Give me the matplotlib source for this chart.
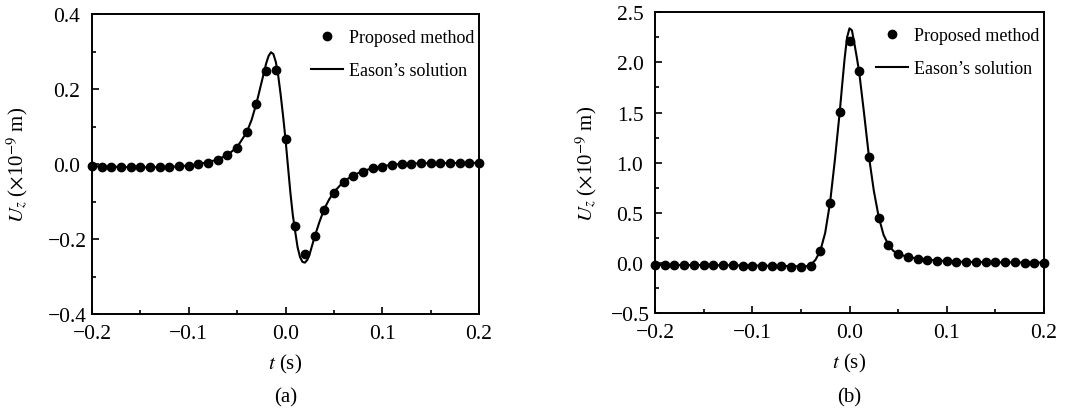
import numpy as np
import matplotlib
matplotlib.use("Agg")
import matplotlib.pyplot as plt
from matplotlib.ticker import MultipleLocator

plt.rcParams['font.family'] = ['Liberation Serif', 'DejaVu Serif']
plt.rcParams['mathtext.fontset'] = 'stix'

# ---- data ----
t_pts = np.round(np.arange(-0.20, 0.2001, 0.01), 2)

# (a) proposed method, 41 points
ua_pts = [-0.006, -0.007, -0.009, -0.009, -0.009, -0.009, -0.009, -0.009, -0.008, -0.006,
          -0.004, 0.000, 0.004, 0.012, 0.024, 0.044, 0.086, 0.160, 0.249, 0.252,
          0.066, -0.166, -0.240, -0.191, -0.123, -0.076, -0.047, -0.031, -0.020, -0.011,
          -0.007, -0.003, 0.000, 0.001, 0.003, 0.003, 0.003, 0.003, 0.003, 0.003, 0.003]

# (a) Eason's solution
ta_line = [-0.20, -0.15, -0.12, -0.10, -0.09, -0.08, -0.07, -0.06, -0.05, -0.04,
           -0.035, -0.03, -0.025, -0.02, -0.0175, -0.015, -0.0125, -0.01, -0.0075, -0.005,
           -0.0025, 0.0, 0.0025, 0.005, 0.0075, 0.01, 0.0125, 0.015, 0.0175, 0.02,
           0.0225, 0.025, 0.03, 0.035, 0.04, 0.045, 0.05, 0.06, 0.07, 0.08,
           0.09, 0.10, 0.11, 0.12, 0.14, 0.20]
ua_line = [-0.006, -0.009, -0.008, -0.004, 0.000, 0.005, 0.012, 0.024, 0.045, 0.085,
           0.118, 0.162, 0.215, 0.268, 0.288, 0.298, 0.293, 0.272, 0.235, 0.185,
           0.128, 0.066, -0.005, -0.075, -0.135, -0.180, -0.222, -0.248, -0.261, -0.263,
           -0.256, -0.240, -0.195, -0.155, -0.120, -0.095, -0.075, -0.047, -0.030, -0.019,
           -0.011, -0.006, -0.002, 0.000, 0.002, 0.003]

# (b) proposed method
ub_pts = [-0.018, -0.019, -0.020, -0.021, -0.022, -0.023, -0.024, -0.025, -0.026, -0.027,
          -0.028, -0.030, -0.032, -0.034, -0.038, -0.044, -0.028, 0.115, 0.600, 1.510,
          2.210, 1.910, 1.053, 0.451, 0.178, 0.085, 0.059, 0.042, 0.032, 0.022,
          0.015, 0.011, 0.009, 0.008, 0.007, 0.006, 0.005, 0.004, 0.003, 0.003, 0.003]

# (b) Eason's solution
tb_line = [-0.20, -0.15, -0.10, -0.06, -0.05, -0.045, -0.04, -0.035, -0.03, -0.025,
           -0.02, -0.015, -0.01, -0.0075, -0.005, -0.0025, 0.0, 0.0025, 0.005, 0.0075,
           0.01, 0.015, 0.02, 0.025, 0.03, 0.035, 0.04, 0.045, 0.05, 0.06,
           0.07, 0.08, 0.10, 0.12, 0.15, 0.20]
ub_line = [-0.020, -0.022, -0.026, -0.032, -0.036, -0.035, -0.022, 0.030, 0.120, 0.300,
           0.600, 1.030, 1.510, 1.780, 2.040, 2.250, 2.340, 2.320, 2.190, 2.050,
           1.900, 1.490, 1.060, 0.720, 0.460, 0.280, 0.180, 0.120, 0.088, 0.060,
           0.043, 0.032, 0.018, 0.010, 0.006, 0.003]

fig = plt.figure(figsize=(10.81, 4.14), dpi=100)
ax1 = fig.add_axes([92 / 1081, 99 / 414, 387 / 1081, 300 / 414])
ax2 = fig.add_axes([655 / 1081, 100 / 414, 389 / 1081, 300.7 / 414])

panels = [
    (ax1, ua_pts, ta_line, ua_line, (-0.4, 0.4), 0.2, 0.1, '(a)'),
    (ax2, ub_pts, tb_line, ub_line, (-0.5, 2.5), 0.5, 0.25, '(b)'),
]

def minus_fmt(v, p):
    return ('%.1f' % v).replace('-', '\u2212')

for ax, pts, tl, ul, ylim, ymaj, ymin, tag in panels:
    ax.plot(t_pts, pts, 'o', color='k', ms=6, clip_on=False, zorder=3, label='Proposed method')
    ax.plot(tl, ul, '-', color='k', lw=1.5, label="Eason\u2019s solution")
    ax.set_xlim(-0.2, 0.2)
    ax.set_ylim(*ylim)
    ax.xaxis.set_major_locator(MultipleLocator(0.1))
    ax.xaxis.set_minor_locator(MultipleLocator(0.05))
    ax.yaxis.set_major_locator(MultipleLocator(ymaj))
    ax.yaxis.set_minor_locator(MultipleLocator(ymin))
    ax.xaxis.set_major_formatter(minus_fmt)
    ax.yaxis.set_major_formatter(minus_fmt)
    ax.tick_params(which='both', direction='in', top=False, right=False, labelsize=15.5, width=1.2)
    ax.tick_params(which='major', length=5)
    ax.tick_params(which='minor', length=3)
    ax.tick_params(axis='x', pad=7)
    ax.tick_params(axis='y', pad=18)
    for lbl in ax.get_yticklabels():
        lbl.set_horizontalalignment('center')
    for s in ax.spines.values():
        s.set_linewidth(1.4)
    ax.set_xlabel(r'$t$ (s)', fontsize=15)
    ax.set_ylabel(r'$U_z$ ($\times$10$^{-9}$ m)', fontsize=15)
    ax.xaxis.set_label_coords(0.5, -0.125)
    ax.legend(loc='upper right', bbox_to_anchor=(0.987, 0.95), frameon=False, fontsize=13,
              handlelength=1.8, handletextpad=0.3, labelspacing=0.88, borderaxespad=0,
              borderpad=0)
    pos = ax.get_position()
    fig.text(pos.x0 + pos.width / 2, 0.04, tag, ha='center', va='center', fontsize=15)

ax1.yaxis.set_label_coords(-0.16, 0.5)
ax2.yaxis.set_label_coords(-0.145, 0.5)

fig.savefig('out.png', dpi=100)
